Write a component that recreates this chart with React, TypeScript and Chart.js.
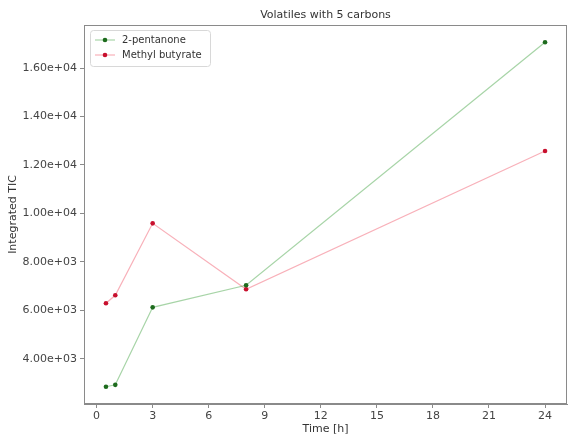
import React, { useEffect, useRef } from "react";
import { Chart, registerables } from "chart.js";

Chart.register(...registerables);

const chartTitle = "Volatiles with 5 carbons";
const xLabel = "Time [h]";
const yLabel = "Integrated TIC";
const times = [0.5, 1, 3, 8, 24];
const pentanone = [2840, 2920, 6120, 7030, 17070];
const methylButyrate = [6290, 6620, 9590, 6870, 12580];
const xTicks = [0, 3, 6, 9, 12, 15, 18, 21, 24];
const yTicks = [4000, 6000, 8000, 10000, 12000, 14000, 16000];
const seriesNames = ["2-pentanone", "Methyl butyrate"];

const FONT = "'DejaVu Sans', sans-serif";

function fmtExp(v: number) {
  return v.toExponential(2).replace(/e([+-])(\d)$/, "e$10$2");
}

function padRange(vals: number[]) {
  const lo = Math.min(...vals);
  const hi = Math.max(...vals);
  const m = (hi - lo) * 0.05;
  return [lo - m, hi + m];
}

export default function App() {
  const ref = useRef<HTMLCanvasElement>(null);
  useEffect(() => {
    if (!ref.current) return;
    const [xMin, xMax] = padRange(times);
    const [yMin, yMax] = padRange([...pentanone, ...methylButyrate]);
    const framePlugin = {
      id: "frame",
      afterDraw(chart: any) {
        const { ctx, chartArea: a } = chart;
        ctx.save();
        ctx.strokeStyle = "#8a8a8a";
        ctx.lineWidth = 1;
        ctx.strokeRect(a.left + 0.5, a.top + 0.5, a.right - a.left - 1, a.bottom - a.top - 1);
        // title
        ctx.fillStyle = "#333";
        ctx.font = `11px ${FONT}`;
        ctx.textAlign = "center";
        ctx.textBaseline = "bottom";
        ctx.fillText(chartTitle, (a.left + a.right) / 2, a.top - 4);
        // legend
        const bx = a.left + 6;
        const by = a.top + 5;
        const bw = 120;
        const bh = 36;
        ctx.fillStyle = "rgba(255,255,255,0.85)";
        ctx.strokeStyle = "#d8d8d8";
        ctx.beginPath();
        (ctx as any).roundRect(bx + 0.5, by + 0.5, bw, bh, 3);
        ctx.fill();
        ctx.stroke();
        chart.data.datasets.forEach((ds: any, i: number) => {
          const yy = by + 10 + i * 15;
          ctx.strokeStyle = ds.borderColor;
          ctx.lineWidth = 1.2;
          ctx.beginPath();
          ctx.moveTo(bx + 5, yy);
          ctx.lineTo(bx + 25, yy);
          ctx.stroke();
          ctx.fillStyle = ds.pointBackgroundColor;
          ctx.beginPath();
          ctx.arc(bx + 15, yy, 2.3, 0, Math.PI * 2);
          ctx.fill();
          ctx.fillStyle = "#333";
          ctx.font = `10px ${FONT}`;
          ctx.textAlign = "left";
          ctx.textBaseline = "middle";
          ctx.fillText(ds.label, bx + 32, yy);
        });
        ctx.restore();
      },
    };
    const chart = new Chart(ref.current, {
      type: "line",
      data: {
        datasets: [
          {
            label: seriesNames[0],
            data: times.map((t, i) => ({ x: t, y: pentanone[i] })),
            borderColor: "rgba(60,160,60,0.45)",
            borderWidth: 1.2,
            pointRadius: 2.3,
            pointBorderWidth: 0,
            pointBackgroundColor: "#1d6b1d",
            pointBorderColor: "#1d6b1d",
          },
          {
            label: seriesNames[1],
            data: times.map((t, i) => ({ x: t, y: methylButyrate[i] })),
            borderColor: "rgba(240,80,100,0.45)",
            borderWidth: 1.2,
            pointRadius: 2.3,
            pointBorderWidth: 0,
            pointBackgroundColor: "#c8102e",
            pointBorderColor: "#c8102e",
          },
        ],
      },
      options: {
        animation: false,
        responsive: false,
        maintainAspectRatio: false,
        layout: { padding: { top: 25, right: 3, left: 0, bottom: 0 } },
        plugins: {
          legend: { display: false },
          title: { display: false },
          tooltip: { enabled: false },
        },
        scales: {
          x: {
            type: "linear",
            min: xMin,
            max: xMax,
            afterBuildTicks: (s: any) => {
              s.ticks = xTicks.map((v) => ({ value: v }));
            },
            afterFit: (s: any) => {
              s.height = 34;
            },
            grid: { drawOnChartArea: false, drawTicks: true, tickLength: 4, color: "#8a8a8a" },
            border: { display: true, color: "#8a8a8a" },
            ticks: { color: "#444", font: { family: FONT, size: 11 }, padding: 2, maxRotation: 0, autoSkip: false },
            title: { display: true, text: xLabel, color: "#333", font: { family: FONT, size: 11 }, padding: { top: 0, bottom: 2 } },
          },
          y: {
            type: "linear",
            min: yMin,
            max: yMax,
            afterBuildTicks: (s: any) => {
              s.ticks = yTicks.map((v) => ({ value: v }));
            },
            afterFit: (s: any) => {
              s.width = 84;
            },
            grid: { drawOnChartArea: false, drawTicks: true, tickLength: 4, color: "#8a8a8a" },
            border: { display: true, color: "#8a8a8a" },
            ticks: {
              color: "#444",
              font: { family: FONT, size: 11 },
              padding: 3,
              callback: (v: any) => fmtExp(Number(v)),
            },
            title: { display: true, text: yLabel, color: "#333", font: { family: FONT, size: 11 }, padding: { top: 7, bottom: 0 } },
          },
        },
      },
      plugins: [framePlugin],
    } as any);
    return () => chart.destroy();
  }, []);
  return (
    <div style={{ position: "fixed", left: 0, top: 0, width: 571, height: 438, background: "#fff" }}>
      <canvas ref={ref} width={571} height={438} style={{ display: "block" }} />
    </div>
  );
}
